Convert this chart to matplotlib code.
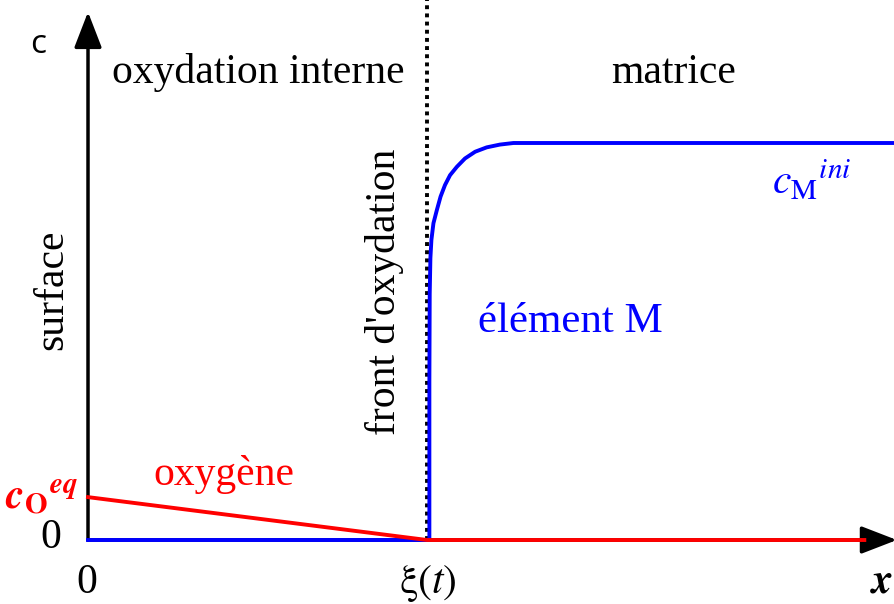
"""
Profils de concentration : oxydation interne
"""

import matplotlib.pyplot as plt
from matplotlib.patches import FancyArrowPatch

# position du front d'oxydation (unités arbitraires)
xi = 1.0

# profil de l'oxygène
x_oxygene = [0.0, 1.0, 2.29]
c_oxygene = [0.108, 0.0, 0.0]

# profil de l'élément M
x_element = [0.0, 1.007, 1.007, 1.008, 1.010, 1.013, 1.019, 1.029, 1.040, 1.053,
             1.068, 1.088, 1.112, 1.142, 1.176, 1.215, 1.255, 2.40]
c_element = [0.0, 0.0, 0.40, 0.62, 0.71, 0.756, 0.798, 0.831, 0.865, 0.894,
             0.919, 0.940, 0.961, 0.978, 0.989, 0.996, 1.0, 1.0]


def main():
    plt.rcParams['mathtext.fontset'] = 'stix'
    serif = ['Liberation Serif', 'DejaVu Serif']

    fig = plt.figure(figsize=(8.95, 6.04), dpi=100)
    ax = fig.add_axes([0, 0, 1, 1])
    ax.set_xlim(-0.2596, 2.3805)
    ax.set_ylim(-0.1612, 1.3602)
    ax.axis('off')

    # axes avec flèches
    for start, end in [((0, 0), (0, 1.33)), ((0, 0), (2.386, 0))]:
        arr = FancyArrowPatch(start, end, arrowstyle='-|>,head_length=22,head_width=8.5',
                              mutation_scale=1, lw=2.5, color='black',
                              shrinkA=0, shrinkB=0, zorder=2)
        ax.add_patch(arr)

    # front d'oxydation
    ax.plot([xi, xi], [0, 1.4], color='black', lw=2.8, linestyle=(0, (1, 1.1)), zorder=3)

    # profils
    ax.plot(x_element, c_element, color='#0000ff', lw=2.8, zorder=4,
            solid_joinstyle='round')
    ax.plot(x_oxygene, c_oxygene, color='#ff0000', lw=2.8, zorder=5)

    # textes
    ax.text(0.501, 1.151, 'oxydation interne', family=serif, fontsize=30,
            ha='center', va='baseline')
    ax.text(1.726, 1.151, 'matrice', family=serif, fontsize=30,
            ha='center', va='baseline')
    ax.text(-0.106, 0.63, 'surface', family=serif, fontsize=30, rotation=90,
            ha='center', va='center')
    ax.text(0.876, 0.625, "front d'oxydation", family=serif, fontsize=30, rotation=90,
            ha='center', va='center')
    ax.text(1.422, 0.524, 'élément M', family=serif, fontsize=31, color='#0000ff',
            ha='center', va='baseline')
    ax.text(2.136, 0.904, r'${c_{\mathrm{M}}}^{ini}$', fontsize=30, color='#0000ff',
            ha='center', va='center')
    ax.text(0.401, 0.139, 'oxygène', family=serif, fontsize=30, color='#ff0000',
            ha='center', va='baseline')
    ax.text(-0.03, 0.11, r'${\mathbfit{c}_{\mathbf{O}}}^{\mathbfit{eq}}$', fontsize=30,
            color='#ff0000', ha='right', va='center')

    # graduations
    ax.text(-0.109, 0.005, '0', family=serif, fontsize=30, ha='center', va='center')
    ax.text(-0.003, -0.108, '0', family=serif, fontsize=30, ha='center', va='center')
    ax.text(xi + 0.003, -0.108, r'$\mathrm{\xi}(t)$', fontsize=30, ha='center', va='center')
    ax.text(2.377, -0.103, r'$\mathbfit{x}$', fontsize=30, ha='right', va='center')

    # étiquette du panneau
    ax.text(-0.147, 1.247, 'c', family=['Open Sans', 'DejaVu Sans'], fontsize=24,
            ha='center', va='center')

    fig.savefig('out.png', dpi=100)
    plt.close(fig)


if __name__ == "__main__":
    main()
